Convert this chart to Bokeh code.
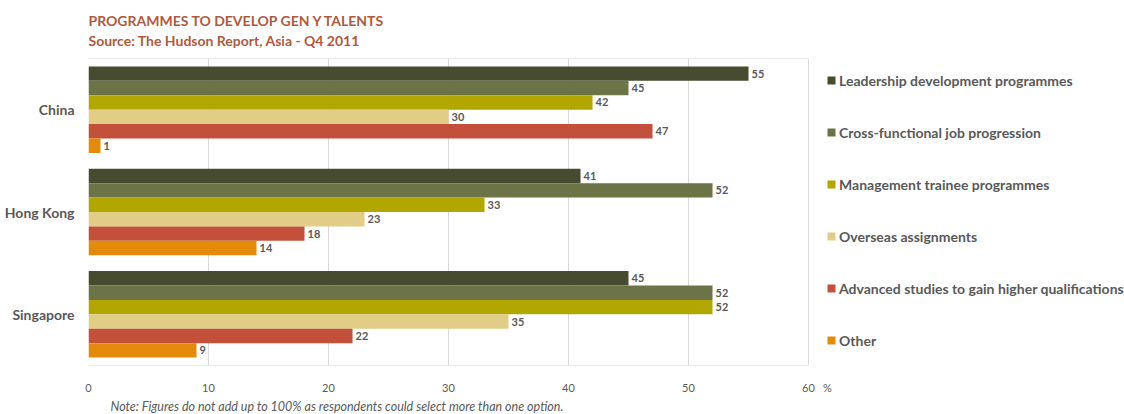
from bokeh.plotting import figure
from bokeh.models import (ColumnDataSource, FixedTicker, Legend, LegendItem, Range1d, Title)
from bokeh.core.properties import value
from bokeh.embed import file_html
from bokeh.resources import INLINE

countries = ["China", "Hong Kong", "Singapore"]
series = ["Leadership development programmes", "Cross-functional job progression",
          "Management trainee programmes", "Overseas assignments",
          "Advanced studies to gain higher qualifications", "Other"]
leadership = [55, 41, 45]
cross_functional = [45, 52, 52]
management = [42, 33, 52]
overseas = [30, 23, 35]
advanced = [47, 18, 22]
other = [1, 14, 9]
values = [leadership, cross_functional, management, overseas, advanced, other]
colors = ["#474B2F", "#6C7346", "#B1A700", "#E1CD85", "#C3503A", "#E38A0A"]
x_ticks = [0, 10, 20, 30, 40, 50, 60]
unit_label = "%"
title_text = "PROGRAMMES TO DEVELOP GEN Y TALENTS"
subtitle_text = "Source: The Hudson Report, Asia - Q4 2011"
note_text = "Note: Figures do not add up to 100% as respondents could select more than one option."

FONT = "Lato"
GRAY = "#595959"
GRID = "#D9D9D9"

W, H = 1124, 414
LEFT, TOP, BOTTOM = 88, 57, 48
PLOT_RIGHT = 808  # pixel where the value axis ends
frame_w = W - LEFT
px_per_unit = (PLOT_RIGHT - LEFT) / x_ticks[-1]
x_end = frame_w / px_per_unit
unit_pos = x_ticks[-1] + 19 / px_per_unit

p = figure(width=W, height=H, output_backend="svg", toolbar_location=None,
           x_range=Range1d(0, x_end), y_range=Range1d(0, 3),
           min_border_left=LEFT, min_border_right=0, min_border_top=TOP, min_border_bottom=BOTTOM)
p.background_fill_color = "white"
p.border_fill_color = "white"
p.outline_line_color = None

# plot-area box top / bottom
p.segment(x0=[x_ticks[0]] * 2, x1=[x_ticks[-1]] * 2, y0=[0, 3], y1=[0, 3], line_color=GRID, line_width=1)

centers = [2.5 - i for i in range(len(countries))]
bh = 0.1408
items = []
for k, (name, vals, col) in enumerate(zip(series, values, colors)):
    ys = [c + (2.5 - k) * bh for c in centers]
    src = ColumnDataSource(dict(y=ys, x=vals, t=[str(v) for v in vals]))
    r = p.hbar(y="y", left=0, right="x", height=bh, source=src, fill_color=col, line_color=None)
    p.text(x="x", y="y", text="t", source=src, x_offset=3, text_baseline="middle", text_align="left",
           text_font=value(FONT), text_font_style="bold", text_font_size="11px", text_color=GRAY)
    items.append(LegendItem(label=name, renderers=[r]))

legend = Legend(items=items, location=(738, 15), label_text_font=FONT, label_text_font_style="bold",
                label_text_font_size="14px", label_text_color=GRAY, glyph_width=10, glyph_height=10,
                label_height=20, spacing=32, label_standoff=3, border_line_color=None,
                background_fill_alpha=0, padding=5, margin=0)
p.add_layout(legend)

p.xaxis.ticker = FixedTicker(ticks=x_ticks + [unit_pos])
p.xaxis.major_label_overrides = {unit_pos: unit_label}
p.xaxis.axis_line_color = None
p.xaxis.major_tick_line_color = None
p.xaxis.minor_tick_line_color = None
p.xaxis.major_label_text_font = FONT
p.xaxis.major_label_text_font_size = "11px"
p.xaxis.major_label_text_color = GRAY
p.xaxis.major_label_standoff = 9

p.yaxis.ticker = FixedTicker(ticks=centers)
p.yaxis.major_label_overrides = {c: n for c, n in zip(centers, countries)}
p.yaxis.axis_line_color = None
p.yaxis.major_tick_line_color = None
p.yaxis.minor_tick_line_color = None
p.yaxis.major_label_text_font = FONT
p.yaxis.major_label_text_font_style = "bold"
p.yaxis.major_label_text_font_size = "14px"
p.yaxis.major_label_text_color = GRAY
p.yaxis.major_label_standoff = 8

p.xgrid.ticker = FixedTicker(ticks=x_ticks)
p.xgrid.grid_line_color = GRID
p.ygrid.grid_line_color = None

TITLE_COLOR = "#AF5A3E"
p.title.text = ""
p.add_layout(Title(text=title_text + "\n" + subtitle_text, align="left",
                   text_font=FONT, text_font_style="bold", text_font_size="14px", text_color=TITLE_COLOR,
                   text_line_height=1.2, standoff=19), "above")
p.add_layout(Title(text=note_text, align="left", offset=22, text_font=FONT, text_font_style="italic",
                   text_font_size="12.5px", text_color=GRAY, standoff=1), "below")

open("out.html", "w").write(file_html(p, INLINE))
